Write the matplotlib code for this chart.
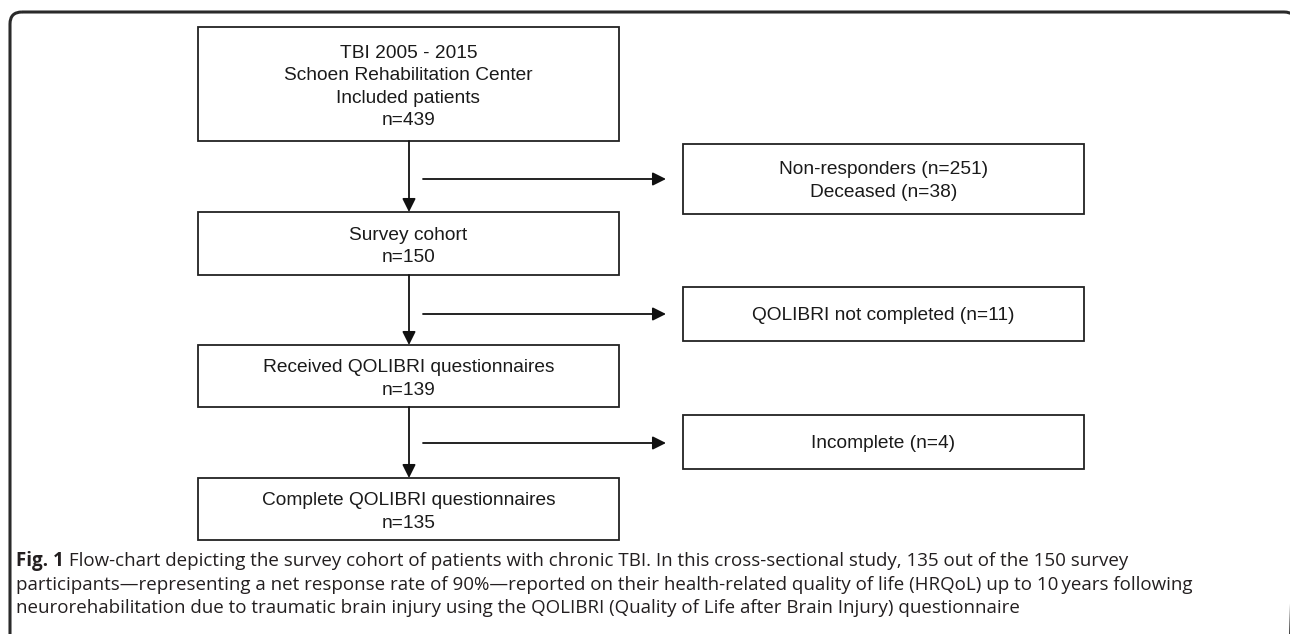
import matplotlib
matplotlib.use("Agg")
import matplotlib.pyplot as plt
from matplotlib.patches import Rectangle, FancyBboxPatch

# ---- content ----
main_labels = [
    "TBI 2005 - 2015\nSchoen Rehabilitation Center\nIncluded patients\nn=439",
    "Survey cohort\nn=150",
    "Received QOLIBRI questionnaires\nn=139",
    "Complete QOLIBRI questionnaires\nn=135",
]
side_labels = [
    "Non-responders (n=251)\nDeceased (n=38)",
    "QOLIBRI not completed (n=11)",
    "Incomplete (n=4)",
]
caption_bold = "Fig. 1"
caption_lines = [
    " Flow-chart depicting the survey cohort of patients with chronic TBI. In this cross-sectional study, 135 out of the 150 survey",
    "participants\u2014representing a net response rate of 90%\u2014reported on their health-related quality of life (HRQoL) up to 10\u2009years following",
    "neurorehabilitation due to traumatic brain injury using the QOLIBRI (Quality of Life after Brain Injury) questionnaire",
]

# ---- layout (pixel coordinates, y downward) ----
W, H = 1290, 634
main_x0, main_x1 = 198, 619
main_y = [(27, 141), (212, 275), (345, 407), (478, 540)]
side_x0, side_x1 = 683, 1084
side_y = [(144, 214), (287, 341), (415, 469)]
arrow_x = 409
side_arrow_y = [179, 314, 443]
side_arrow_x0, side_arrow_x1 = 423, 666

fig = plt.figure(figsize=(W / 100, H / 100), dpi=100)
ax = fig.add_axes([0, 0, 1, 1])
ax.set_xlim(0, W)
ax.set_ylim(H, 0)
ax.axis("off")

edge = "#222222"
box_font = dict(family=["Liberation Sans", "DejaVu Sans"], size=13.8, color="#1a1a1a")

# outer frame
frame = FancyBboxPatch((10, 12), 1286, 700, boxstyle="round,pad=0,rounding_size=12",
                       fill=False, ec="#2a2a2a", lw=2.2, clip_on=True)
ax.add_patch(frame)

for (y0, y1), lab in zip(main_y, main_labels):
    ax.add_patch(Rectangle((main_x0, y0), main_x1 - main_x0, y1 - y0, fill=False, ec=edge, lw=1.3))
    ax.text((main_x0 + main_x1) / 2, (y0 + y1) / 2 + 3, lab, ha="center", va="center",
            linespacing=1.42, **box_font)

for (y0, y1), lab in zip(side_y, side_labels):
    ax.add_patch(Rectangle((side_x0, y0), side_x1 - side_x0, y1 - y0, fill=False, ec=edge, lw=1.3))
    ax.text((side_x0 + side_x1) / 2, (y0 + y1) / 2 + 2, lab, ha="center", va="center",
            linespacing=1.42, **box_font)

arrow_props = dict(arrowstyle="-|>", color="#111111", lw=1.3, mutation_scale=20,
                   shrinkA=0, shrinkB=0)
for i in range(3):
    ax.annotate("", xy=(arrow_x, main_y[i + 1][0]), xytext=(arrow_x, main_y[i][1]),
                arrowprops=arrow_props)
    ax.annotate("", xy=(side_arrow_x1, side_arrow_y[i]), xytext=(side_arrow_x0, side_arrow_y[i]),
                arrowprops=arrow_props)

# caption
cap_font = dict(family=["Open Sans", "DejaVu Sans"], size=13.5, color="#231f20")
cap_y = [561, 585, 608]
t = ax.text(16, cap_y[0], caption_bold, ha="left", va="center", fontweight="bold", **cap_font)
fig.canvas.draw()
bb = t.get_window_extent()
x_after = bb.x1
ax.annotate(caption_lines[0], xy=(x_after, H - cap_y[0]), xycoords="figure pixels",
            ha="left", va="center", **cap_font)
for yy, line in zip(cap_y[1:], caption_lines[1:]):
    ax.text(16, yy, line, ha="left", va="center", **cap_font)

fig.savefig("out.png", dpi=100)
